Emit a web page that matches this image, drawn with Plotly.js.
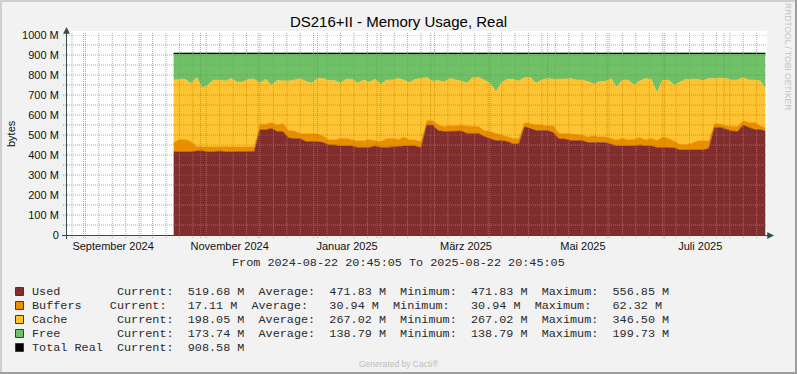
<!DOCTYPE html>
<html><head><meta charset="utf-8">
<script src="https://cdn.plot.ly/plotly-3.0.1.min.js"></script>
<style>html,body{margin:0;padding:0;background:#F2F2F2;overflow:hidden}#chart{width:797px;height:374px}</style>
</head><body><div id="chart"></div>
<script>
// ---------------- data ----------------
const dates = [
'2024-10-18','2024-10-21','2024-10-24','2024-10-27','2024-10-30','2024-11-02','2024-11-05','2024-11-08','2024-11-11','2024-11-14',
'2024-11-17','2024-11-20','2024-11-23','2024-11-26','2024-11-29','2024-12-02','2024-12-05','2024-12-08','2024-12-11','2024-12-14',
'2024-12-17','2024-12-20','2024-12-23','2024-12-26','2024-12-29','2025-01-01','2025-01-04','2025-01-07','2025-01-10','2025-01-13',
'2025-01-16','2025-01-19','2025-01-22','2025-01-25','2025-01-28','2025-01-31','2025-02-03','2025-02-06','2025-02-09','2025-02-12',
'2025-02-15','2025-02-18','2025-02-21','2025-02-24','2025-02-27','2025-03-02','2025-03-05','2025-03-08','2025-03-11','2025-03-14',
'2025-03-17','2025-03-20','2025-03-23','2025-03-26','2025-03-29','2025-04-01','2025-04-04','2025-04-07','2025-04-10','2025-04-13',
'2025-04-16','2025-04-19','2025-04-22','2025-04-25','2025-04-28','2025-05-01','2025-05-04','2025-05-07','2025-05-10','2025-05-13',
'2025-05-16','2025-05-19','2025-05-22','2025-05-25','2025-05-28','2025-05-31','2025-06-03','2025-06-06','2025-06-09','2025-06-12',
'2025-06-15','2025-06-18','2025-06-21','2025-06-24','2025-06-27','2025-06-30','2025-07-03','2025-07-06','2025-07-09','2025-07-12',
'2025-07-15','2025-07-18','2025-07-21','2025-07-24','2025-07-27','2025-07-30','2025-08-02','2025-08-05','2025-08-08','2025-08-11',
'2025-08-14','2025-08-17','2025-08-20','2025-08-22 12:00'];

// Megabytes
const used = [
416,416,416,416,420,420,416,416,420,416,
416,416,416,416,418,526,526,533,517,517,
485,482,482,467,467,467,462,450,450,445,
445,445,438,438,438,445,438,438,440,445,
445,445,445,437,550,550,522,517,517,517,
520,508,508,508,492,483,472,472,467,455,
455,542,533,522,522,522,512,480,480,472,
472,472,462,462,462,462,455,445,445,445,
445,450,445,445,438,438,438,436,425,425,
425,425,425,433,538,538,527,520,517,550,
538,527,527,519.68];

const buffers = [
46,62,62,51,23,20,24,24,23,27,
24,24,24,24,22,28,28,29,33,41,
35,38,26,38,38,38,33,25,25,38,
38,33,32,32,40,25,29,45,43,33,
45,30,30,30,22,22,28,25,29,29,
30,37,37,34,30,34,36,28,23,28,
28,20,25,28,28,23,33,28,28,33,
33,28,28,35,28,28,28,30,38,30,
33,38,30,38,34,52,45,34,27,27,
33,45,45,37,17,17,18,25,25,22,
24,35,18,17.11];

const cache = [
313,301,301,291,345,295,312,335,332,327,
343,325,325,339,339,206,225,188,222,214,
250,255,275,263,255,278,288,297,297,277,
296,301,290,305,287,309,288,292,292,305,
285,287,304,316,215,198,222,223,237,229,
220,215,243,246,253,243,209,262,289,296,
287,226,230,210,225,238,234,271,271,278,
270,275,277,258,277,277,300,265,292,300,
272,282,308,296,240,285,292,280,313,327,
321,309,302,313,228,230,238,230,233,216,
213,213,225,198.05];

const free = [
133.6,129.6,129.6,150.6,120.6,173.6,156.6,133.6,133.6,138.6,
125.6,143.6,143.6,129.6,129.6,148.6,129.6,158.6,136.6,136.6,
138.6,133.6,125.6,140.6,148.6,125.6,125.6,136.6,136.6,148.6,
129.6,129.6,148.6,133.6,143.6,129.6,153.6,133.6,133.6,125.6,
133.6,146.6,129.6,125.6,121.6,138.6,136.6,143.6,125.6,133.6,
138.6,148.6,120.6,120.6,133.6,148.6,191.6,146.6,129.6,129.6,
138.6,120.6,120.6,148.6,133.6,125.6,129.6,129.6,129.6,125.6,
133.6,133.6,141.6,153.6,141.6,141.6,125.6,168.6,133.6,133.6,
158.6,138.6,125.6,129.6,196.6,133.6,133.6,158.6,143.6,129.6,
129.6,129.6,136.6,125.6,125.6,123.6,125.6,133.6,133.6,120.6,
133.6,133.6,138.6,173.74];

const seriesNames = ['Used','Buffers','Cache','Free','Total Real'];
const legendCurrent = ['519.68','17.11','198.05','173.74','908.58'];
const legendAverage = ['471.83','30.94','267.02','138.79',null];
const legendMinimum = ['471.83','30.94','267.02','138.79',null];
const legendMaximum = ['556.85','62.32','346.50','199.73',null];

const yTickVals = [0,100,200,300,400,500,600,700,800,900,1000];
const yTickText = ['0','100 M','200 M','300 M','400 M','500 M','600 M','700 M','800 M','900 M','1000 M'];
const xLabelDates = ['2024-09-16 10:00','2024-11-16 05:00','2025-01-16 10:00','2025-03-19 10:00','2025-05-19 10:00','2025-07-19 14:00'];
const xLabelText = ['September 2024','November 2024','Januar 2025','März 2025','Mai 2025','Juli 2025'];

const rangeStart = '2024-08-22 20:45:05';
const rangeEnd = '2025-08-22 20:45:05';

// ---------------- styling ----------------
const colors = ['#7F2D2D','#EA8F00','#FFC433','#70C067','#000000'];
const labelPad = [12,11,12,12,12];
const L = 66, T = 35, W = 700, H = 200;
const px = x => (x - L) / W;
const py = y => (T + H - y) / H;
const AXIS = '#2F4F46';
const GRID = 'rgba(143,143,143,0.75)';
const MGRID = 'rgba(222,79,79,0.6)';

const stacks = [used, buffers, cache, free];
const traces = stacks.map((arr, i) => ({
  type: 'scatter', mode: 'lines', x: dates, y: arr, name: seriesNames[i],
  stackgroup: 'mem', fillcolor: colors[i],
  line: {color: colors[i], width: 0.6, shape: 'linear'}, hoverinfo: 'skip'
}));
const totalReal = dates.map((d, i) => used[i] + buffers[i] + cache[i] + free[i]);
traces.push({type: 'scatter', mode: 'lines', x: dates, y: totalReal, name: seriesNames[4],
  xaxis: 'x2', yaxis: 'y', line: {color: '#000', width: 1.2}, hoverinfo: 'skip'});

// grid (drawn above the areas, like rrdtool)
const shapes = [];
shapes.push({type: 'rect', xref: 'paper', yref: 'paper', x0: px(66), x1: px(767), y0: py(235), y1: py(31),
  fillcolor: '#FFFFFF', line: {width: 0}, layer: 'below'});
const dayMs = 86400000;
const endMs = new Date('2025-08-22T20:45:05').getTime();
for (let t = new Date('2024-08-26T00:00:00').getTime(); t < endMs; t += 7 * dayMs) {
  const d = new Date(t);
  const s = d.getFullYear() + '-' + String(d.getMonth() + 1).padStart(2, '0') + '-' + String(d.getDate()).padStart(2, '0');
  shapes.push({type: 'line', xref: 'x', yref: 'paper', x0: s, x1: s, y0: py(238), y1: py(32),
    line: {color: GRID, width: 1, dash: '1px,1px'}, layer: 'above'});
}
for (let m = 0; m < 12; m++) {
  const d = new Date(2024, 8 + m, 1);
  const s = d.getFullYear() + '-' + String(d.getMonth() + 1).padStart(2, '0') + '-01';
  shapes.push({type: 'line', xref: 'x', yref: 'paper', x0: s, x1: s, y0: py(238), y1: py(32),
    line: {color: MGRID, width: 1, dash: '1px,1px'}, layer: 'above'});
}
for (let v = 50; v <= 1000; v += 50) {
  shapes.push({type: 'line', xref: 'paper', yref: 'y', x0: px(63), x1: px(767), y0: v, y1: v,
    line: {color: v % 100 === 0 ? MGRID : GRID, width: 1, dash: '1px,1px'}, layer: 'above'});
}
// axes with arrows
shapes.push({type: 'line', xref: 'paper', yref: 'paper', x0: px(66.5), x1: px(66.5), y0: py(239), y1: py(31),
  line: {color: AXIS, width: 1}, layer: 'above'});
shapes.push({type: 'line', xref: 'paper', yref: 'paper', x0: px(62), x1: px(769), y0: py(235.5), y1: py(235.5),
  line: {color: AXIS, width: 1}, layer: 'above'});
shapes.push({type: 'path', xref: 'paper', yref: 'paper',
  path: `M ${px(63.5)} ${py(33.5)} L ${px(69.5)} ${py(33.5)} L ${px(66.5)} ${py(27.5)} Z`,
  fillcolor: AXIS, line: {color: AXIS, width: 0.5}, layer: 'above'});
shapes.push({type: 'path', xref: 'paper', yref: 'paper',
  path: `M ${px(767.5)} ${py(232.5)} L ${px(767.5)} ${py(238.5)} L ${px(773.5)} ${py(235.5)} Z`,
  fillcolor: AXIS, line: {color: AXIS, width: 0.5}, layer: 'above'});
// 3D frame
shapes.push({type: 'line', xref: 'paper', yref: 'paper', x0: px(0), x1: px(797), y0: py(1), y1: py(1), line: {color: '#CFCFCF', width: 2}});
shapes.push({type: 'line', xref: 'paper', yref: 'paper', x0: px(1), x1: px(1), y0: py(0), y1: py(374), line: {color: '#CFCFCF', width: 2}});
shapes.push({type: 'line', xref: 'paper', yref: 'paper', x0: px(0), x1: px(797), y0: py(373), y1: py(373), line: {color: '#9E9E9E', width: 2}});
shapes.push({type: 'line', xref: 'paper', yref: 'paper', x0: px(796), x1: px(796), y0: py(0), y1: py(374), line: {color: '#9E9E9E', width: 2}});

// legend boxes + text
const nb = s => s.replace(/ /g, '\u00A0');
const MONO = {family: 'Liberation Mono, Courier New, monospace', size: 11.8, color: '#2A2A2A'};
const annotations = [];
seriesNames.forEach((name, i) => {
  const c = 291.5 + 14 * i;
  shapes.push({type: 'rect', xref: 'paper', yref: 'paper', x0: px(15.5), x1: px(23.5), y0: py(c + 4), y1: py(c - 4),
    fillcolor: colors[i], line: {color: '#3A3A3A', width: 1}});
  let line = name.padEnd(labelPad[i]) + 'Current:' + legendCurrent[i].padStart(8) + ' M';
  if (legendAverage[i] !== null) {
    line += '  Average:' + legendAverage[i].padStart(8) + ' M' +
            '  Minimum:' + legendMinimum[i].padStart(8) + ' M' +
            '  Maximum:' + legendMaximum[i].padStart(8) + ' M';
  }
  annotations.push({xref: 'paper', yref: 'paper', x: px(30), y: py(c), xanchor: 'left', yanchor: 'middle',
    text: nb(line), showarrow: false, font: MONO});
});
annotations.push({xref: 'paper', yref: 'paper', x: px(398), y: py(262.7), xanchor: 'center', yanchor: 'middle',
  text: nb('From ' + rangeStart + ' To ' + rangeEnd), showarrow: false, font: MONO});
annotations.push({xref: 'paper', yref: 'paper', x: px(11), y: py(134), xanchor: 'center', yanchor: 'middle',
  text: 'bytes', textangle: -90, showarrow: false, font: {family: 'Liberation Sans, Arial, sans-serif', size: 11, color: '#111'}});
annotations.push({xref: 'paper', yref: 'paper', x: px(788), y: py(56), xanchor: 'center', yanchor: 'middle',
  text: 'RRDTOOL / TOBI OETIKER', textangle: 90, showarrow: false, font: {family: 'Liberation Sans, Arial, sans-serif', size: 8.5, color: '#C4C4C4'}});
annotations.push({xref: 'paper', yref: 'paper', x: px(399), y: py(363.5), xanchor: 'center', yanchor: 'middle',
  text: 'Generated by Cacti®', showarrow: false, font: {family: 'Liberation Sans, Arial, sans-serif', size: 8.5, color: '#BDBDBD'}});

const SANS = {family: 'Liberation Sans, Arial, sans-serif', size: 11, color: '#111'};
const layout = {
  width: 797, height: 374,
  margin: {l: L, r: 797 - L - W, t: T, b: 374 - T - H, pad: 0},
  paper_bgcolor: '#F2F2F2', plot_bgcolor: '#FFFFFF',
  showlegend: false,
  title: {text: 'DS216+II - Memory Usage, Real', font: {family: 'Liberation Sans, Arial, sans-serif', size: 15, color: '#000'},
    x: 0.5, xref: 'container', xanchor: 'center', y: 1 - 22 / 374, yref: 'container', yanchor: 'middle'},
  xaxis: {type: 'date', range: [rangeStart, rangeEnd], showgrid: false, zeroline: false, showline: false,
    showticklabels: false, ticks: '', fixedrange: true},
  xaxis2: {type: 'date', range: [rangeStart, rangeEnd], overlaying: 'x', anchor: 'y', side: 'bottom',
    tickmode: 'array', tickvals: xLabelDates, ticktext: xLabelText, ticks: '', showgrid: false,
    zeroline: false, showline: false, tickfont: SANS, ticklabelstandoff: 3, fixedrange: true},
  yaxis: {range: [0, 1000], tickmode: 'array', tickvals: yTickVals, ticktext: yTickText,
    showgrid: false, zeroline: false, showline: false, ticks: 'outside', ticklen: 4, tickcolor: 'rgba(0,0,0,0)',
    tickfont: SANS, fixedrange: true},
  shapes: shapes,
  annotations: annotations
};
Plotly.newPlot('chart', traces, layout, {staticPlot: true, displayModeBar: false});
</script>
</body></html>
